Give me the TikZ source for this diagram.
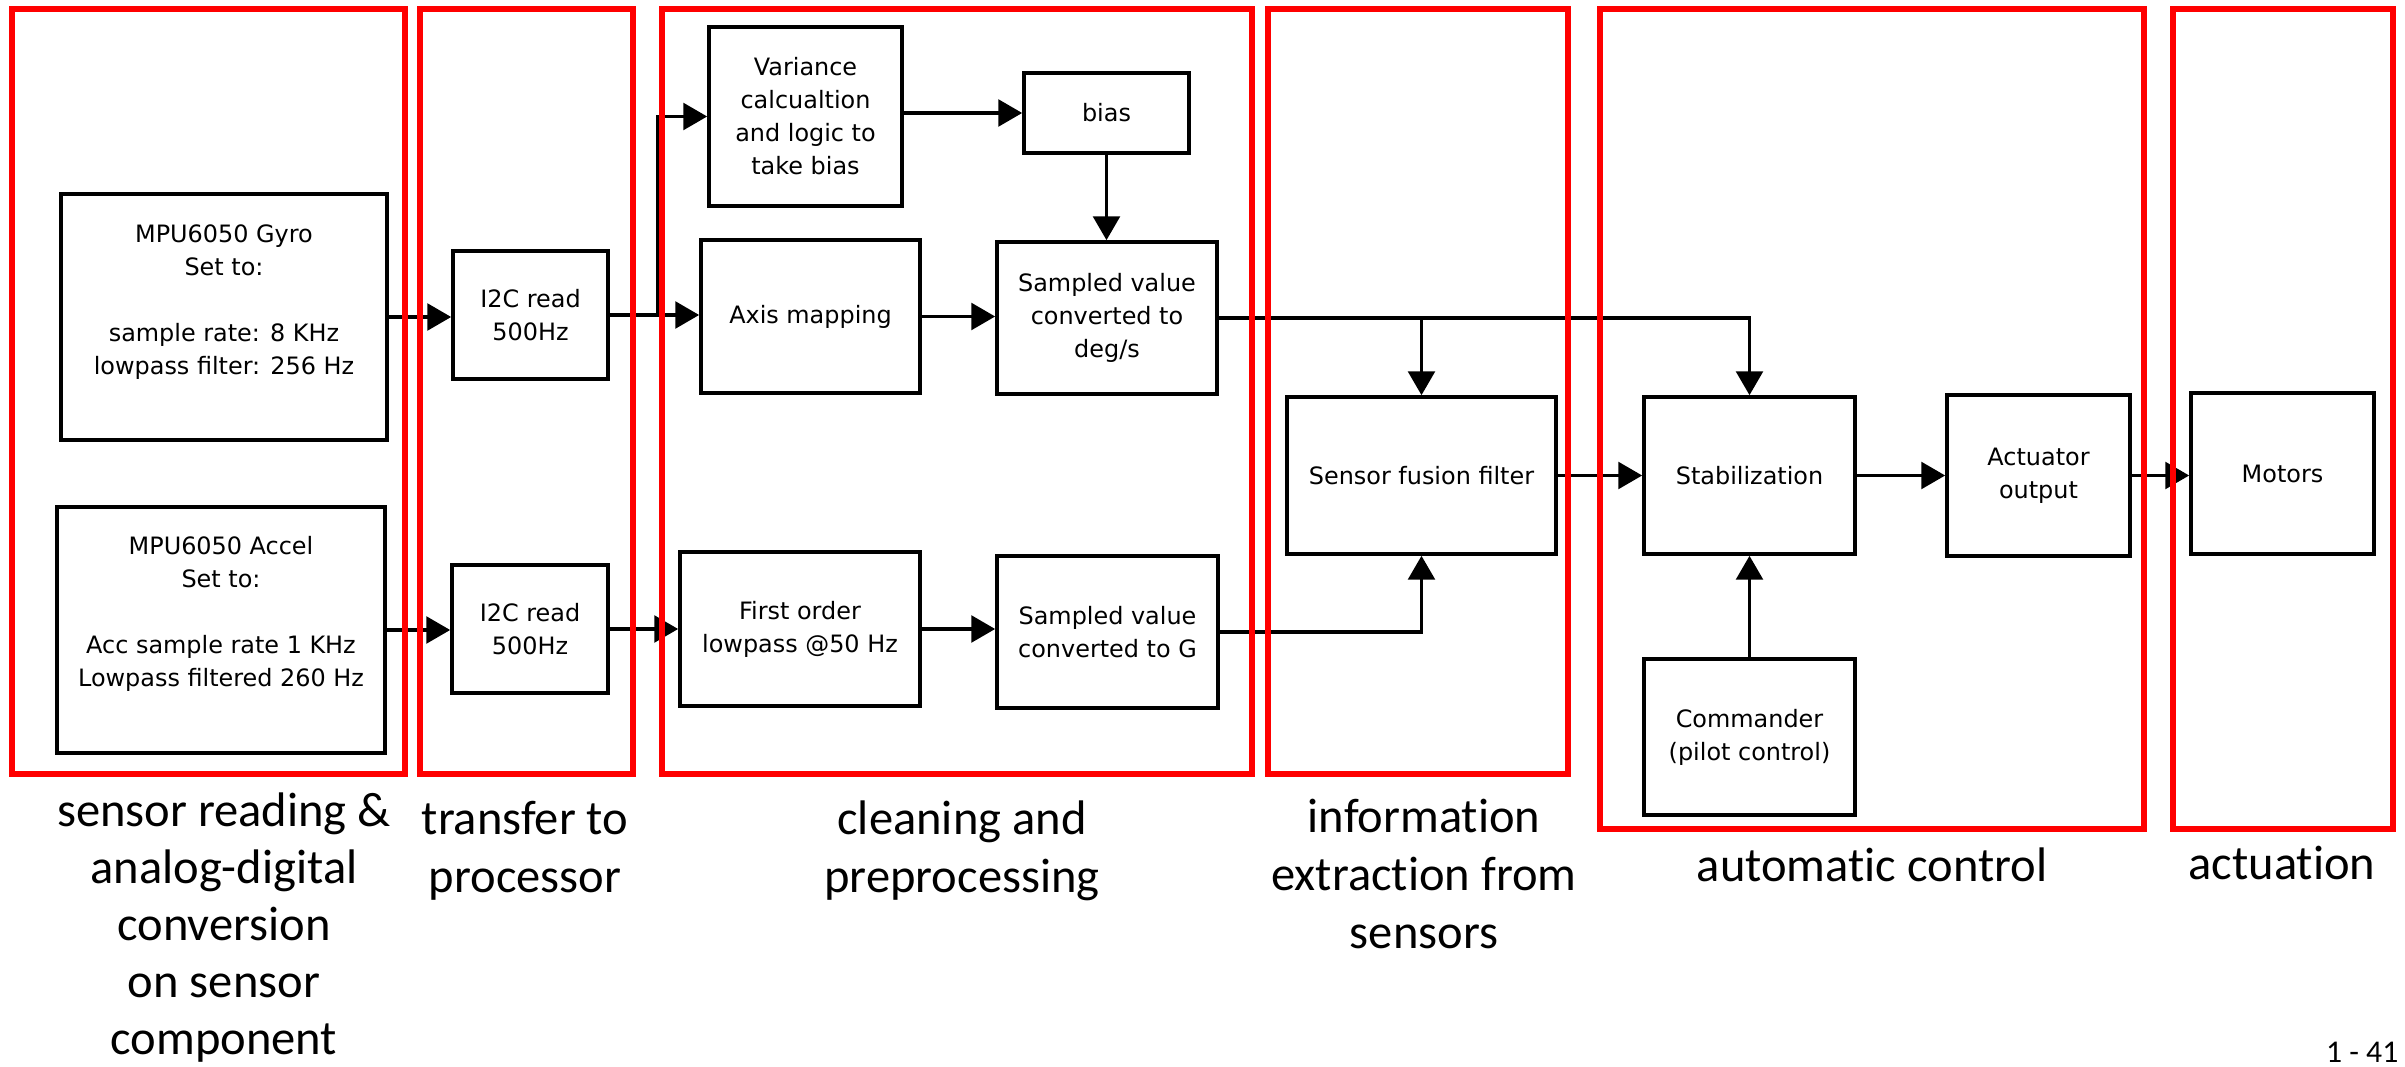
\documentclass[tikz,border=0pt]{standalone}
\usepackage{fontspec}
\setmainfont{Carlito}[Ligatures={NoCommon}]
\newfontfamily\blockfont{DejaVu Sans}
\usetikzlibrary{arrows.meta}

\tikzset{
  block/.style={draw=black, line width=1pt, fill=white, inner sep=0pt,
    align=center, font=\blockfont\fontsize{6.8pt}{9.4pt}\selectfont},
  blocktext/.style={inner sep=0pt, align=center,
    font=\blockfont\fontsize{6.8pt}{9.4pt}\selectfont},
  flow/.style={line width=1pt, -{Triangle[length=6.8pt,width=7.6pt]}},
  stage/.style={draw={rgb,255:red,255;green,0;blue,0}, line width=1.7pt},
  caption/.style={inner sep=0pt, align=center,
    font=\fontsize{13.8pt}{16.4pt}\selectfont},
  longcaption/.style={inner sep=0pt, align=center,
    font=\fontsize{13.8pt}{16.2pt}\selectfont},
}

\begin{document}
\begin{tikzpicture}[x=0.01cm, y=-0.01cm]
\useasboundingbox (0,0) rectangle (2405,1067);

% sensor blocks (text sits slightly above the box centre)
\node[block, minimum width=3.26cm, minimum height=2.46cm] (gyro) at (224,317) {};
\node[blocktext] (gyrotext) at (224,302)
  {MPU6050 Gyro\\Set to:\\[9.4pt]sample rate: 8 KHz\\lowpass filter: 256 Hz};
\node[block, minimum width=3.28cm, minimum height=2.46cm] (accel) at (221,630) {};
\node[blocktext] (acceltext) at (221,614)
  {MPU6050 Accel\\Set to:\\[9.4pt]Acc sample rate 1 KHz\\Lowpass filtered 260 Hz};

% bus transfer
\node[block, minimum width=1.55cm, minimum height=1.28cm] (i2ca) at (530.5,315) {I2C read\\500Hz};
\node[block, minimum width=1.56cm, minimum height=1.28cm] (i2cb) at (530,629) {I2C read\\500Hz};

% preprocessing
\node[block, minimum width=1.93cm, minimum height=1.79cm] (var) at (805.5,116.5)
  {Variance\\calcualtion\\and logic to\\take bias};
\node[block, minimum width=1.65cm, minimum height=0.80cm] (bias) at (1106.5,113) {bias};
\node[block, minimum width=2.19cm, minimum height=1.53cm] (axis) at (810.5,316.5) {Axis mapping};
\node[block, minimum width=2.20cm, minimum height=1.52cm] (sdeg) at (1107,318)
  {Sampled value\\converted to\\deg/s};
\node[block, minimum width=2.40cm, minimum height=1.54cm] (first) at (800,629)
  {First order\\lowpass @50 Hz};
\node[block, minimum width=2.21cm, minimum height=1.52cm] (sg) at (1107.5,632)
  {Sampled value\\converted to G};

% fusion, control, actuation
\node[block, minimum width=2.69cm, minimum height=1.57cm] (fusion) at (1421.5,475.5) {Sensor fusion filter};
\node[block, minimum width=2.11cm, minimum height=1.57cm] (stab) at (1749.5,475.5) {Stabilization};
\node[block, minimum width=2.11cm, minimum height=1.56cm] (cmd) at (1749.5,737) {Commander\\(pilot control)};
\node[block, minimum width=1.83cm, minimum height=1.61cm] (act) at (2038.5,475.5) {Actuator\\output};
\node[block, minimum width=1.83cm, minimum height=1.61cm] (motors) at (2282.5,473.5) {Motors};

% connectors
\coordinate (split) at (658,315);
\draw[flow] (gyro.east) -- (gyro.east -| i2ca.west);
\draw[flow] (accel.east) -- (accel.east -| i2cb.west);
\draw[flow] (i2ca.east) -- (i2ca.east -| axis.west);
\draw[flow] (split) |- (var.west);
\draw[flow] (i2cb.east) -- (i2cb.east -| first.west);
\draw[flow] (var.east |- bias.west) -- (bias.west);
\draw[flow] (bias.south) -- (bias.south |- sdeg.north);
\draw[flow] (axis.east) -- (axis.east -| sdeg.west);
\draw[flow] (first.east) -- (first.east -| sg.west);
\draw[flow] (sdeg.east) -| (stab.north);
\draw[flow] (sdeg.east -| fusion.north) -- (fusion.north);
\draw[flow] (sg.east) -| (fusion.south);
\draw[flow] (fusion.east) -- (stab.west);
\draw[flow] (stab.east) -- (act.west);
\draw[flow] (cmd.north) -- (stab.south);
\draw[flow] (act.east) -- (act.east -| motors.west);

% stage frames
\draw[stage] (12,9) rectangle (405,774);
\draw[stage] (420,9) rectangle (633,774);
\draw[stage] (662,9) rectangle (1252,774);
\draw[stage] (1268,9) rectangle (1568,774);
\draw[stage] (1600,9) rectangle (2144,829);
\draw[stage] (2173,9) rectangle (2393,829);

% stage captions (base anchor = baseline of the last line)
\node[longcaption, anchor=base] (capa) at (224,1054)
  {sensor reading \&\\analog-digital\\conversion\\on sensor\\component};
\node[caption, anchor=base] (capb) at (525,892) {transfer to\\processor};
\node[caption, anchor=base] (capc) at (962,892) {cleaning and\\preprocessing};
\node[caption, anchor=base] (capd) at (1424,948) {information\\extraction from\\sensors};
\node[caption, anchor=base] (cape) at (1872,881) {automatic control};
\node[caption, anchor=base] (capf) at (2282,879) {actuation};
\node[inner sep=0pt, anchor=base east, font=\fontsize{9pt}{10pt}\selectfont] (page) at (2399,1062) {1 - 41};
\end{tikzpicture}
\end{document}
